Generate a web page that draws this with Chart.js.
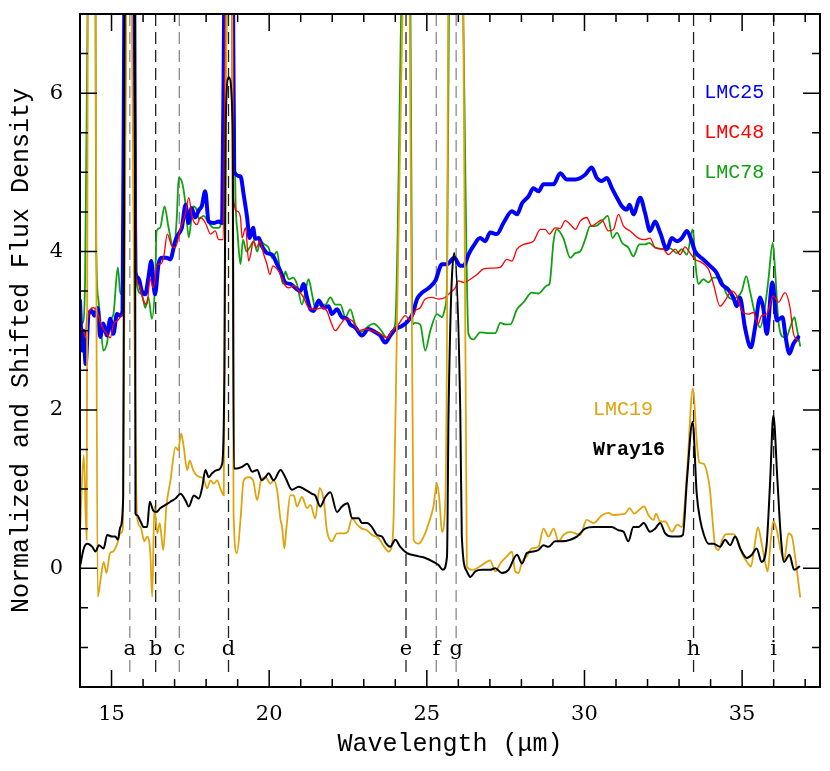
<!DOCTYPE html>
<html>
<head>
<meta charset="utf-8">
<script src="https://cdn.jsdelivr.net/npm/chart.js@4.4.1/dist/chart.umd.min.js"></script>
<style>
  body { margin: 0; background: #fff; }
  canvas { display: block; }
</style>
</head>
<body>
<canvas id="chart" width="830" height="771"></canvas>
<script>
// wavelengths (micron) and shifted flux for each spectrum
const wl25 = [14.0, 14.07, 14.11, 14.18, 14.27, 14.37, 14.46, 14.56, 14.64, 14.74, 14.85, 14.96, 15.06, 15.17, 15.27, 15.35, 15.41, 15.56, 15.72, 15.75, 15.85, 15.96, 16.07, 16.17, 16.26, 16.33, 16.38, 16.49, 16.59, 16.75, 16.86, 17.02, 17.12, 17.23, 17.35, 17.44, 17.54, 17.65, 17.78, 17.86, 17.97, 18.08, 18.24, 18.4, 18.51, 18.58, 18.72, 18.85, 18.89, 19.09, 19.19, 19.3, 19.38, 19.49, 19.56, 19.67, 19.77, 19.93, 20.09, 20.25, 20.36, 20.51, 20.67, 20.83, 20.99, 21.09, 21.2, 21.31, 21.41, 21.57, 21.73, 21.88, 21.99, 22.15, 22.31, 22.47, 22.57, 22.73, 22.94, 23.15, 23.37, 23.52, 23.68, 23.84, 24.0, 24.21, 24.42, 24.55, 24.69, 24.85, 25.06, 25.27, 25.48, 25.64, 25.87, 26.06, 26.17, 26.32, 26.48, 26.69, 26.85, 27.01, 27.22, 27.43, 27.7, 27.86, 28.02, 28.23, 28.38, 28.54, 28.7, 29.02, 29.23, 29.44, 29.71, 30.02, 30.23, 30.39, 30.55, 30.71, 30.87, 31.03, 31.19, 31.34, 31.43, 31.55, 31.77, 31.92, 32.08, 32.24, 32.4, 32.61, 32.77, 32.93, 33.09, 33.25, 33.4, 33.51, 33.77, 33.98, 34.19, 34.35, 34.56, 34.72, 34.83, 34.93, 35.09, 35.28, 35.41, 35.57, 35.67, 35.78, 35.96, 36.1, 36.28, 36.38, 36.5, 36.62, 36.78];
const lmc25 = [3.38, 2.75, 3.0, 2.58, 3.21, 3.25, 3.19, 3.29, 2.92, 3.09, 2.94, 3.15, 2.96, 3.21, 3.19, 3.25, 7.5, 11, 7.5, 3.75, 3.67, 3.5, 3.46, 3.67, 3.88, 3.59, 3.46, 3.84, 3.92, 3.92, 3.9, 4.13, 4.22, 4.3, 4.59, 4.36, 4.55, 4.43, 4.53, 4.57, 4.76, 4.38, 4.36, 4.38, 4.36, 7.5, 10, 7.5, 5.01, 4.95, 4.72, 4.43, 4.17, 4.3, 4.16, 4.17, 4.07, 3.98, 3.96, 3.84, 3.75, 3.61, 3.59, 3.54, 3.5, 3.59, 3.42, 3.27, 3.25, 3.38, 3.29, 3.31, 3.21, 3.27, 3.17, 3.15, 3.08, 3.04, 2.94, 3.02, 2.98, 2.94, 2.85, 2.94, 3.02, 3.06, 3.13, 3.21, 3.4, 3.48, 3.54, 3.63, 3.84, 3.84, 3.92, 3.82, 3.82, 3.96, 4.07, 4.17, 4.13, 4.24, 4.22, 4.36, 4.51, 4.47, 4.61, 4.7, 4.8, 4.76, 4.85, 4.85, 4.99, 4.91, 4.91, 4.97, 5.06, 4.93, 4.89, 4.93, 4.8, 4.68, 4.57, 4.53, 4.59, 4.47, 4.68, 4.49, 4.26, 4.38, 4.24, 4.03, 4.17, 4.13, 4.17, 4.26, 4.13, 4.0, 3.9, 3.82, 3.73, 3.59, 3.52, 3.42, 3.31, 3.42, 3.04, 2.79, 3.04, 3.42, 3.29, 2.96, 3.61, 3.13, 3.17, 2.92, 2.71, 2.83, 2.92];

const wl48 = [14.0, 14.14, 14.18, 14.25, 14.43, 14.53, 14.69, 14.85, 14.96, 15.06, 15.2, 15.32, 15.4, 15.47, 15.6, 15.75, 15.77, 15.85, 16.01, 16.12, 16.22, 16.33, 16.45, 16.54, 16.65, 16.77, 16.91, 17.02, 17.19, 17.34, 17.45, 17.56, 17.71, 17.82, 17.98, 18.14, 18.29, 18.4, 18.54, 18.62, 18.74, 18.84, 18.87, 18.98, 19.09, 19.14, 19.25, 19.35, 19.43, 19.49, 19.6, 19.7, 19.83, 19.93, 20.02, 20.12, 20.25, 20.36, 20.51, 20.62, 20.78, 20.94, 21.09, 21.25, 21.46, 21.68, 21.83, 21.94, 22.1, 22.26, 22.42, 22.63, 22.84, 23.05, 23.26, 23.52, 23.74, 23.9, 24.1, 24.32, 24.48, 24.63, 24.79, 24.95, 25.16, 25.37, 25.58, 25.74, 25.9, 26.0, 26.17, 26.38, 26.59, 26.8, 27.07, 27.33, 27.54, 27.7, 27.86, 28.07, 28.38, 28.6, 28.75, 28.89, 29.07, 29.23, 29.39, 29.6, 29.71, 29.86, 30.07, 30.23, 30.39, 30.55, 30.76, 30.92, 31.08, 31.24, 31.45, 31.71, 31.92, 32.08, 32.24, 32.5, 32.66, 32.88, 33.03, 33.19, 33.35, 33.51, 33.72, 33.93, 34.09, 34.3, 34.46, 34.67, 34.83, 34.99, 35.2, 35.36, 35.5, 35.62, 35.78, 35.99, 36.15, 36.36, 36.52, 36.62, 36.78];
const lmc48 = [3.02, 2.97, 2.91, 3.17, 3.29, 3.25, 3.06, 2.96, 2.91, 3.08, 3.13, 3.19, 3.3, 7.5, 11, 7.5, 3.71, 3.59, 3.38, 3.33, 3.65, 3.54, 3.84, 3.84, 3.92, 4.22, 4.07, 4.05, 4.3, 4.47, 4.68, 4.43, 4.34, 4.43, 4.36, 4.22, 4.26, 4.15, 4.15, 7.5, 10, 7.5, 4.68, 4.51, 4.43, 4.17, 4.3, 3.88, 4.0, 4.13, 4.05, 4.13, 3.96, 3.84, 3.71, 3.82, 3.78, 3.71, 3.57, 3.54, 3.57, 3.5, 3.42, 3.29, 3.27, 3.29, 3.25, 3.13, 3.0, 3.08, 3.15, 3.13, 3.0, 3.02, 3.0, 2.96, 2.91, 3.0, 3.08, 3.19, 3.13, 3.25, 3.29, 3.4, 3.42, 3.4, 3.42, 3.48, 3.54, 3.63, 3.61, 3.65, 3.71, 3.78, 3.79, 3.8, 3.9, 3.88, 4.03, 4.09, 4.13, 4.28, 4.28, 4.22, 4.3, 4.29, 4.39, 4.32, 4.28, 4.38, 4.43, 4.32, 4.36, 4.4, 4.26, 4.28, 4.47, 4.32, 4.26, 4.17, 4.15, 4.17, 4.05, 4.03, 3.96, 4.03, 3.96, 4.06, 3.98, 3.9, 3.86, 3.78, 3.59, 3.31, 3.38, 3.5, 3.44, 3.25, 3.21, 3.23, 3.08, 3.19, 3.21, 3.44, 3.36, 3.48, 3.29, 2.98, 2.87];

const wl78 = [14.0, 14.08, 14.16, 14.25, 14.37, 14.49, 14.51, 14.58, 14.64, 14.74, 14.85, 14.96, 15.06, 15.2, 15.27, 15.32, 15.45, 15.58, 15.72, 15.8, 15.96, 16.07, 16.17, 16.28, 16.38, 16.43, 16.54, 16.68, 16.81, 16.97, 17.07, 17.13, 17.24, 17.34, 17.45, 17.59, 17.7, 17.77, 17.92, 18.08, 18.24, 18.4, 18.51, 18.68, 18.76, 18.84, 18.93, 19.0, 19.09, 19.17, 19.28, 19.38, 19.51, 19.62, 19.72, 19.85, 19.98, 20.09, 20.25, 20.33, 20.44, 20.51, 20.62, 20.76, 20.88, 21.04, 21.15, 21.25, 21.36, 21.46, 21.62, 21.78, 21.94, 22.1, 22.26, 22.42, 22.57, 22.73, 22.89, 23.1, 23.31, 23.52, 23.74, 23.9, 24.0, 24.21, 24.33, 24.47, 24.55, 24.63, 24.79, 24.95, 25.11, 25.32, 25.48, 25.58, 25.64, 25.71, 25.92, 26.13, 26.32, 26.48, 26.69, 26.91, 27.17, 27.33, 27.49, 27.65, 27.86, 28.07, 28.33, 28.54, 28.81, 28.89, 29.02, 29.12, 29.33, 29.55, 29.71, 29.86, 30.02, 30.18, 30.34, 30.55, 30.74, 30.89, 31.03, 31.19, 31.39, 31.55, 31.74, 31.92, 32.05, 32.24, 32.45, 32.72, 32.93, 33.09, 33.25, 33.43, 33.53, 33.61, 33.77, 33.93, 34.09, 34.3, 34.51, 34.67, 34.83, 34.99, 35.13, 35.25, 35.41, 35.57, 35.72, 35.83, 35.97, 36.04, 36.15, 36.31, 36.41, 36.52, 36.66, 36.73, 36.84];
const lmc78 = [3.1, 3.1, 3.6, 7.5, 11, 7.5, 4.2, 3.4, 3.17, 2.75, 2.83, 3.13, 3.21, 3.8, 3.5, 3.46, 7.5, 10, 7.5, 3.59, 3.46, 3.29, 3.42, 3.15, 3.59, 4.26, 4.3, 4.57, 4.3, 4.03, 4.43, 4.93, 4.87, 4.62, 4.18, 4.57, 4.53, 4.41, 4.45, 4.36, 4.3, 4.3, 4.53, 7.5, 9, 7.5, 4.72, 4.22, 3.84, 4.15, 4.0, 4.05, 4.13, 4.0, 4.13, 4.09, 4.05, 3.92, 4.0, 3.8, 3.59, 3.75, 3.65, 3.67, 3.59, 3.33, 3.5, 3.65, 3.46, 3.29, 3.33, 3.33, 3.42, 3.33, 3.33, 3.17, 3.27, 3.08, 2.98, 3.04, 3.09, 3.02, 2.91, 3.0, 3.1, 7.5, 9, 7.5, 3.08, 3.1, 3.08, 2.75, 3.0, 3.21, 3.17, 3.29, 3.6, 7.5, 9, 7.5, 2.96, 2.89, 2.98, 2.97, 2.97, 3.1, 3.08, 3.08, 3.27, 3.36, 3.48, 3.47, 3.57, 3.59, 4.13, 4.28, 4.17, 3.92, 3.98, 4.0, 4.15, 4.32, 4.32, 4.38, 4.45, 4.17, 4.24, 4.11, 4.05, 3.94, 4.09, 4.09, 4.11, 4.05, 4.03, 4.04, 3.98, 4.03, 3.96, 4.28, 3.8, 3.59, 3.65, 3.61, 3.67, 3.67, 3.46, 3.4, 3.42, 3.5, 3.69, 3.5, 3.21, 3.04, 3.29, 3.63, 4.11, 3.8, 3.13, 2.92, 2.92, 3.04, 3.17, 3.04, 2.81];

const wl19 = [14.0, 14.12, 14.21, 14.25, 14.37, 14.49, 14.56, 14.65, 14.75, 14.84, 14.95, 15.05, 15.18, 15.28, 15.36, 15.47, 15.56, 15.63, 15.81, 15.92, 16.04, 16.13, 16.23, 16.29, 16.36, 16.45, 16.53, 16.64, 16.74, 16.87, 17.03, 17.11, 17.21, 17.29, 17.4, 17.48, 17.59, 17.71, 17.82, 17.92, 18.03, 18.14, 18.24, 18.35, 18.45, 18.56, 18.65, 18.74, 18.82, 18.87, 18.98, 19.09, 19.19, 19.35, 19.49, 19.62, 19.74, 19.88, 20.04, 20.14, 20.25, 20.36, 20.41, 20.48, 20.55, 20.67, 20.78, 20.88, 21.04, 21.2, 21.31, 21.46, 21.6, 21.73, 21.83, 21.99, 22.15, 22.36, 22.49, 22.63, 22.79, 22.94, 23.1, 23.26, 23.47, 23.65, 23.79, 23.9, 23.95, 24.05, 24.25, 24.35, 24.45, 24.58, 24.74, 24.9, 25.06, 25.21, 25.32, 25.4, 25.48, 25.58, 25.64, 25.68, 25.9, 26.15, 26.27, 26.43, 26.59, 26.75, 27.01, 27.17, 27.33, 27.54, 27.7, 27.8, 27.91, 28.02, 28.17, 28.33, 28.54, 28.7, 28.86, 29.02, 29.18, 29.33, 29.55, 29.86, 30.07, 30.29, 30.55, 30.76, 30.92, 31.13, 31.29, 31.43, 31.58, 31.71, 31.89, 32.03, 32.19, 32.27, 32.4, 32.56, 32.77, 32.95, 33.09, 33.25, 33.44, 33.56, 33.64, 33.77, 33.88, 33.98, 34.07, 34.14, 34.25, 34.39, 34.51, 34.72, 34.85, 34.99, 35.15, 35.28, 35.39, 35.5, 35.62, 35.73, 35.81, 35.91, 35.99, 36.1, 36.22, 36.33, 36.47, 36.58, 36.68, 36.84];
const lmc19 = [0.46, 1.43, 0.36, 7.5, 11, 7.5, -0.36, -0.15, 0.08, -0.06, 0.19, 0.21, 0.31, 0.44, 0.5, 7.5, 10, 7.5, 0.65, 0.52, 0.34, 0.4, 0.19, -0.36, 0.78, 0.44, 0.57, 0.23, 0.78, 1.11, 1.53, 1.49, 1.7, 1.53, 1.24, 1.36, 1.24, 1.17, 1.15, 1.13, 1.01, 1.11, 1.07, 1.11, 1.01, 0.92, 7.5, 9, 7.5, 0.69, 0.19, 0.61, 1.11, 1.15, 1.11, 0.86, 1.11, 1.15, 1.07, 1.11, 0.99, 0.61, 0.52, 0.25, 0.52, 0.92, 0.92, 0.78, 0.9, 0.76, 0.8, 0.63, 1.01, 0.86, 0.48, 0.34, 0.44, 0.44, 0.46, 0.63, 0.55, 0.5, 0.48, 0.42, 0.38, 0.27, 0.21, 0.31, 0.69, 3.0, 7.5, 9, 7.5, 0.36, 0.31, 0.4, 0.57, 0.78, 1.07, 0.86, 0.46, 0.78, 3.0, 7.5, 9, 7.5, 0.02, -0.02, 0.0, 0.04, 0.1, -0.04, 0.06, 0.15, 0.21, -0.04, -0.06, 0.08, 0.15, 0.25, 0.27, 0.5, 0.4, 0.5, 0.34, 0.42, 0.46, 0.42, 0.61, 0.57, 0.67, 0.7, 0.67, 0.68, 0.69, 0.76, 0.69, 0.73, 0.78, 0.67, 0.61, 0.69, 0.59, 0.59, 0.46, 0.55, 0.52, 1.2, 2.27, 1.61, 1.34, 1.32, 1.22, 0.99, 0.57, 0.29, 0.23, 0.38, 0.43, 0.43, 0.36, 0.19, 0.08, 0.02, 0.27, 0.52, 0.31, 0.08, -0.04, 0.36, 0.59, 0.48, 0.23, 0.1, 0.44, 0.4, 0.15, -0.36];

const wlWray = [14.0, 14.12, 14.23, 14.39, 14.49, 14.6, 14.75, 14.86, 15.02, 15.12, 15.2, 15.28, 15.37, 15.42, 15.58, 15.74, 15.76, 15.81, 15.92, 16.02, 16.13, 16.21, 16.32, 16.42, 16.55, 16.71, 16.87, 17.03, 17.19, 17.34, 17.45, 17.61, 17.77, 17.87, 17.98, 18.08, 18.19, 18.35, 18.51, 18.58, 18.62, 18.72, 18.84, 18.88, 18.98, 19.14, 19.3, 19.46, 19.62, 19.77, 19.88, 19.98, 20.14, 20.36, 20.51, 20.72, 20.94, 21.15, 21.36, 21.46, 21.62, 21.78, 21.94, 22.15, 22.31, 22.49, 22.63, 22.84, 22.94, 23.1, 23.26, 23.42, 23.58, 23.71, 23.84, 24.0, 24.16, 24.37, 24.53, 24.74, 24.95, 25.21, 25.37, 25.51, 25.64, 25.69, 25.87, 26.06, 26.11, 26.27, 26.38, 26.54, 26.75, 27.01, 27.17, 27.38, 27.59, 27.86, 28.02, 28.17, 28.38, 28.54, 28.7, 28.86, 29.07, 29.28, 29.55, 29.76, 30.02, 30.29, 30.6, 30.87, 31.08, 31.24, 31.39, 31.55, 31.71, 31.88, 32.08, 32.24, 32.4, 32.56, 32.77, 32.98, 33.12, 33.25, 33.43, 33.56, 33.67, 33.79, 33.93, 34.09, 34.3, 34.46, 34.62, 34.78, 34.94, 35.15, 35.31, 35.46, 35.62, 35.78, 35.89, 35.99, 36.12, 36.22, 36.33, 36.5, 36.65, 36.81];
const wray16 = [0.02, 0.25, 0.31, 0.27, 0.21, 0.29, 0.25, 0.42, 0.4, 0.4, 0.36, 0.52, 0.9, 7.5, 11, 7.5, 0.69, 0.67, 0.59, 0.52, 0.52, 0.84, 0.73, 0.71, 0.76, 0.8, 0.84, 0.88, 0.94, 0.86, 0.78, 0.92, 0.88, 1.01, 1.24, 1.15, 1.2, 1.24, 1.32, 2.5, 5.6, 6.2, 5.6, 1.26, 1.26, 1.28, 1.32, 1.22, 1.24, 1.11, 1.15, 1.2, 1.11, 1.24, 1.15, 0.99, 1.03, 0.99, 0.94, 0.92, 0.78, 0.9, 0.96, 0.71, 0.78, 0.82, 0.63, 0.63, 0.57, 0.57, 0.52, 0.42, 0.4, 0.31, 0.27, 0.36, 0.27, 0.19, 0.17, 0.15, 0.13, 0.08, 0.04, -0.02, 0.15, 2.0, 3.98, 2.0, 0.4, -0.04, -0.11, -0.04, -0.02, -0.02, 0.0, -0.06, -0.02, 0.17, 0.06, 0.19, 0.21, 0.23, 0.29, 0.27, 0.34, 0.34, 0.36, 0.4, 0.5, 0.52, 0.52, 0.52, 0.48, 0.46, 0.34, 0.52, 0.52, 0.57, 0.46, 0.5, 0.57, 0.44, 0.4, 0.4, 0.42, 1.11, 1.85, 0.94, 0.61, 0.42, 0.31, 0.31, 0.27, 0.36, 0.29, 0.4, 0.25, 0.13, 0.17, 0.25, 0.08, 0.31, 1.11, 1.93, 1.11, 0.44, 0.08, 0.17, -0.02, 0.02];

// identified lines
const lineIds = ['a', 'b', 'c', 'd', 'e', 'f', 'g', 'h', 'i'];
const lineWl = [15.58, 16.4, 17.15, 18.71, 24.34, 25.3, 25.93, 33.46, 36.0];

const xTicks = [15, 20, 25, 30, 35];
const yTicks = [0, 2, 4, 6];

const lineGrey = [true, false, true, false, false, true, true, false, false];

const pts = (xs, ys) => xs.map((x, i) => ({ x: x, y: ys[i] }));

// each marker line broken around its letter
function markerData(grey) {
  const out = [];
  lineWl.forEach((w, i) => {
    if (lineGrey[i] !== grey) return;
    out.push({ x: w, y: 7 }, { x: w, y: -0.88 }, { x: w, y: null },
             { x: w, y: -1.16 }, { x: w, y: -1.36 }, { x: w, y: null });
  });
  return out;
}

function spec(data, color, width, order) {
  return { data: data, borderColor: color, borderWidth: width, order: order,
           pointRadius: 0, fill: false, clip: 0, cubicInterpolationMode: 'monotone',
           borderJoinStyle: 'round', borderCapStyle: 'round' };
}

const GOLD = '#dfa40c';
const GREEN = '#10a010';

const frame = {
  id: 'frame',
  afterDatasetsDraw(chart) {
    const { ctx, chartArea: a, scales: { x, y } } = chart;
    ctx.save();

    // line letters
    ctx.fillStyle = '#000';
    ctx.font = '21px "DejaVu Serif"';
    ctx.textAlign = 'center';
    ctx.textBaseline = 'alphabetic';
    lineIds.forEach((id, i) => {
      ctx.fillText(id, x.getPixelForValue(lineWl[i]), y.getPixelForValue(-1.1));
    });

    // spectrum names
    ctx.textAlign = 'left';
    ctx.textBaseline = 'middle';
    const names = [
      ['LMC25', '#0000ff', 33.8, 6.0, ''],
      ['LMC48', '#ff0000', 33.8, 5.5, ''],
      ['LMC78', GREEN, 33.8, 5.0, ''],
      ['LMC19', GOLD, 30.27, 2.0, ''],
      ['Wray16', '#000', 30.27, 1.5, 'bold ']
    ];
    names.forEach(n => {
      ctx.fillStyle = n[1];
      ctx.font = n[4] + '20px "Liberation Mono"';
      ctx.fillText(n[0], x.getPixelForValue(n[2]), y.getPixelForValue(n[3]));
    });

    // inward ticks on all four sides
    ctx.strokeStyle = '#000';
    ctx.lineWidth = 1.5;
    ctx.beginPath();
    for (let v = 14; v <= 37; v++) {
      const px = x.getPixelForValue(v);
      const len = v % 5 === 0 ? 17 : 8;
      ctx.moveTo(px, a.bottom); ctx.lineTo(px, a.bottom - len);
      ctx.moveTo(px, a.top); ctx.lineTo(px, a.top + len);
    }
    for (let v = -1.5; v <= 7; v += 0.5) {
      const py = y.getPixelForValue(v);
      const len = Math.abs(v % 2) < 1e-9 ? 17 : 8;
      ctx.moveTo(a.left, py); ctx.lineTo(a.left + len, py);
      ctx.moveTo(a.right, py); ctx.lineTo(a.right - len, py);
    }
    ctx.stroke();

    ctx.lineWidth = 2;
    ctx.strokeRect(a.left, a.top, a.right - a.left, a.bottom - a.top);
    ctx.restore();
  }
};

new Chart(document.getElementById('chart'), {
  type: 'line',
  data: {
    datasets: [
      Object.assign(spec(markerData(true), '#8a8a8a', 1.3, 20), { borderDash: [12, 6], borderCapStyle: 'butt', cubicInterpolationMode: 'default', tension: 0 }),
      Object.assign(spec(markerData(false), '#222', 1.3, 19), { borderDash: [12, 6], borderCapStyle: 'butt', cubicInterpolationMode: 'default', tension: 0 }),
      spec(pts(wl78, lmc78), GREEN, 1.8, 6),
      spec(pts(wl25, lmc25), '#0000ff', 4, 5),
      spec(pts(wl48, lmc48), '#ff0000', 1.3, 4),
      spec(pts(wl19, lmc19), GOLD, 1.8, 3),
      spec(pts(wlWray, wray16), '#000', 2, 2)
    ]
  },
  options: {
    responsive: false,
    animation: false,
    spanGaps: false,
    layout: { padding: { left: 0, right: 10, top: 14, bottom: 0 } },
    plugins: { legend: { display: false }, tooltip: { enabled: false } },
    scales: {
      x: {
        type: 'linear', min: 14, max: 37.47,
        afterFit: s => { s.height = 84; s.paddingLeft = 0; s.paddingRight = 0; },
        afterBuildTicks: s => { s.ticks = xTicks.map(v => ({ value: v })); },
        grid: { display: false, drawTicks: false },
        border: { display: false },
        ticks: { padding: 15, color: '#000', maxRotation: 0, font: { family: 'DejaVu Serif', size: 21 } },
        title: { display: true, text: 'Wavelength (μm)', color: '#000',
                 font: { family: 'Liberation Mono', size: 25 }, padding: { top: 0, bottom: 12 } }
      },
      y: {
        type: 'linear', min: -1.5, max: 7,
        afterFit: s => { s.width = 80; s.paddingTop = 0; s.paddingBottom = 0; },
        afterBuildTicks: s => { s.ticks = yTicks.map(v => ({ value: v })); },
        grid: { display: false, drawTicks: false },
        border: { display: false },
        ticks: { padding: 17, color: '#000', font: { family: 'DejaVu Serif', size: 21 } },
        title: { display: true, text: 'Normalized and Shifted Flux Density', color: '#000',
                 font: { family: 'Liberation Mono', size: 25 }, padding: { top: 6, bottom: 0 } }
      }
    }
  },
  plugins: [frame]
});
</script>
</body>
</html>
